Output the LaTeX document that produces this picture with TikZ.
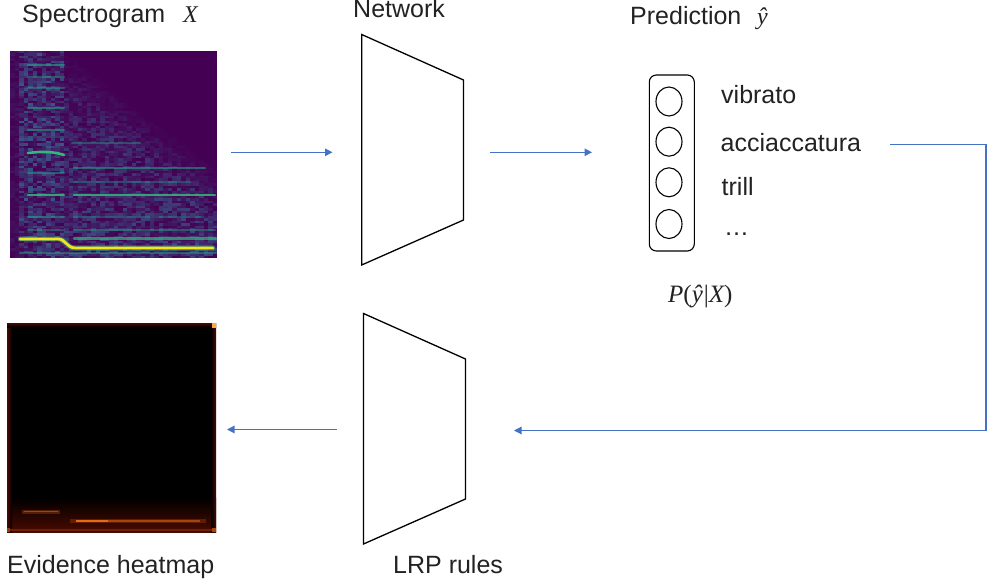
\documentclass[tikz,border=0pt]{standalone}
\usepackage{fontspec}
\setmainfont{Liberation Sans}
\newfontfamily\serifmath{Liberation Serif}
\usetikzlibrary{arrows.meta,shapes.geometric}
\definecolor{arrowblue}{HTML}{4472C4}
\definecolor{vlo}{HTML}{440154}
\definecolor{vhi}{HTML}{3A5E8C}
\definecolor{vgreen}{HTML}{35B779}
\definecolor{vteal}{HTML}{22A884}
\definecolor{vyellow}{HTML}{F2E41E}
\definecolor{txt}{HTML}{222222}
\definecolor{hmred}{HTML}{4A0A00}
\definecolor{hmorange}{HTML}{E86A10}
\definecolor{hmyellow}{HTML}{FFC850}
\newcommand{\mvar}[1]{{\serifmath\itshape #1}}
\tikzset{
  lbl/.style={font=\fontsize{25}{30}\selectfont, text=txt, inner sep=0pt, anchor=base west},
  mathlbl/.style={font=\fontsize{24}{28}\selectfont, text=txt, inner sep=0pt, anchor=base west},
  flow/.style={draw=arrowblue, line width=1.2pt, -{Triangle[length=7.5pt,width=7.5pt]}},
  trap/.style={draw=black, line width=1.3pt, line join=miter},
  unit/.style={draw=black, ellipse, line width=1.1pt, minimum width=26pt, minimum height=29pt, inner sep=0pt},
  harm/.style={line width=2.2pt, line cap=round},
}
\begin{document}
\begin{tikzpicture}[x=1pt,y=-1pt]
\useasboundingbox (0,0) rectangle (997,583);

% ---------- spectrogram ----------
\fill[vlo] (10,51) rectangle (217,258);
\pgfmathsetseed{11}
\foreach \i in {0,...,45}{
  \foreach \j in {0,...,82}{
    \pgfmathsetmacro{\u}{(\i+0.5)/46}
    \pgfmathsetmacro{\w}{(\j+0.5)/83}
    \pgfmathsetmacro{\b}{0.57*(\u-0.27)/0.73}
    \pgfmathsetmacro{\env}{\u<0.05 ? 0.25 : (\u<0.27 ? 0.9 : (0.4+0.4*\w)*min(1,max(0,(\w-\b)/0.22)))}
    \pgfmathtruncatemacro{\v}{100*\env*rnd^1.2}
    \fill[vhi!\v!vlo] (10+\i*4.5, 51+\j*2.494) rectangle ++(4.55,2.55);
  }
}
% harmonics in the attack band
\foreach \yy/\op in {65/0.6,77/0.45,88/0.45,108/0.55,130/0.55,173/0.5,217/0.5,230/0.4}{
  \draw[harm, vteal, opacity=\op] (28,\yy) -- (64,\yy);
}
\draw[harm, vgreen, line width=2.6pt] (28,153) .. controls (45,151) and (55,152) .. (64,155);
\draw[harm, vgreen, opacity=0.85] (28,195) -- (64,195);
% harmonics after the transition
\draw[harm, vteal, opacity=0.4] (72,143) -- (140,143);
\draw[harm, vteal, opacity=0.55] (74,168) -- (205,168);
\draw[harm, vteal, opacity=0.4] (74,182) -- (190,182);
\draw[harm, vgreen, opacity=0.85] (74,195) -- (215,195);
\draw[harm, vteal, opacity=0.35] (74,217) -- (200,217);
\draw[harm, vteal, opacity=0.45] (74,230) -- (215,230);
\draw[harm, vgreen, opacity=0.7] (74,238.5) -- (216,238.5);
\draw[harm, vteal, opacity=0.45] (20,253) -- (216,253);
\draw[line width=5pt, vgreen, opacity=0.5, line cap=round] (20,239) -- (58,239) .. controls (66,239) and (66,248) .. (76,248) -- (213,248);
\draw[line width=2.8pt, vyellow, line cap=round] (20,239) -- (58,239) .. controls (66,239) and (66,248) .. (76,248) -- (213,248);

% ---------- heatmap ----------
\fill[black] (7,323) rectangle (216,532);
\shade[bottom color=hmred, top color=black] (7,498) rectangle (216,532);
\shade[left color=hmred, right color=black] (7,323) rectangle (12,532);
\shade[left color=black, right color=hmred] (211,323) rectangle (216,532);
\shade[top color=hmred, bottom color=black] (7,323) rectangle (216,327);
\draw[line width=4pt, hmred!70!orange, opacity=0.6] (22,512) -- (60,512);
\draw[line width=1.6pt, hmorange!70!hmred, opacity=0.8] (24,511.5) -- (58,511.5);
\draw[line width=4pt, hmred!70!orange, opacity=0.6] (70,521) -- (206,521);
\draw[line width=2pt, hmorange] (76,521) -- (108,521);
\draw[line width=1.4pt, hmorange!60!hmred] (108,521) -- (200,521);
\draw[line width=2pt, hmred!80!orange] (9,530) -- (214,530);
\fill[hmyellow!70!hmorange] (212,323) rectangle (216,328);
\fill[hmorange!60!hmred] (212,528) rectangle (216,532);
\fill[hmorange!50!hmred] (7,528) rectangle (10,532);

% ---------- networks ----------
\coordinate (n1a) at (361.7,34.5);
\coordinate (n1b) at (463.5,80);
\coordinate (n1c) at (463.5,220);
\coordinate (n1d) at (361.7,265);
\draw[trap] (n1a) -- (n1b) -- (n1c) -- (n1d) -- cycle;
\coordinate (n2a) at (363.5,313.5);
\coordinate (n2b) at (465.5,359);
\coordinate (n2c) at (465.5,499);
\coordinate (n2d) at (363.5,544);
\draw[trap] (n2a) -- (n2b) -- (n2c) -- (n2d) -- cycle;

% ---------- output layer ----------
\node[draw=black, line width=1.1pt, rounded corners=7pt, minimum width=45pt, minimum height=176pt, inner sep=0pt] (box) at (671.8,163) {};
\node[unit] (c1) at (669,101.5) {};
\node[unit] (c2) at (669,141.7) {};
\node[unit] (c3) at (669,182.3) {};
\node[unit] (c4) at (669,224) {};

% ---------- labels ----------
\node[lbl] (tspec) at (22,23) {Spectrogram};
\node[mathlbl] (tX) at (183,23) {\mvar{X}};
\node[lbl] (tnet) at (353,18) {Network};
\node[lbl] (tpred) at (630,25) {Prediction};
\node[mathlbl] (tyhat) at (757,25) {\mvar{ŷ}};
\node[lbl] (tvib) at (721,104) {vibrato};
\node[lbl] (tacc) at (720.5,152) {acciaccatura};
\node[lbl] (ttrill) at (721.5,196) {trill};
\node[lbl] (tdots) at (724,236) {\char"2026};
\node[font=\fontsize{25}{29}\selectfont, text=txt, inner sep=0pt, anchor=base west] (tprob) at (668,302) {\mvar{P}{\serifmath(}\mvar{ŷ}\kern1pt{\serifmath|}\mvar{X}{\serifmath)}};
\node[lbl] (tevid) at (7,573) {Evidence heatmap};
\node[lbl] (tlrp) at (393,573) {LRP rules};

% ---------- connectors ----------
\coordinate (a1s) at (231,152.3);
\coordinate (a1e) at (332.5,152.3);
\draw[flow] (a1s) -- (a1e);
\coordinate (a2s) at (490,152.3);
\coordinate (a2e) at (592,152.3);
\draw[flow] (a2s) -- (a2e);
\coordinate (fbs) at (890,144.5);
\coordinate (fbc1) at (986,144.5);
\coordinate (fbc2) at (986,430.5);
\coordinate (fbe) at (514,430.5);
\draw[flow] (fbs) -- (fbc1) -- (fbc2) -- (fbe);
\coordinate (b1s) at (337,429.5);
\coordinate (b1e) at (227,429.5);
\draw[flow] (b1s) -- (b1e);
\end{tikzpicture}
\end{document}
